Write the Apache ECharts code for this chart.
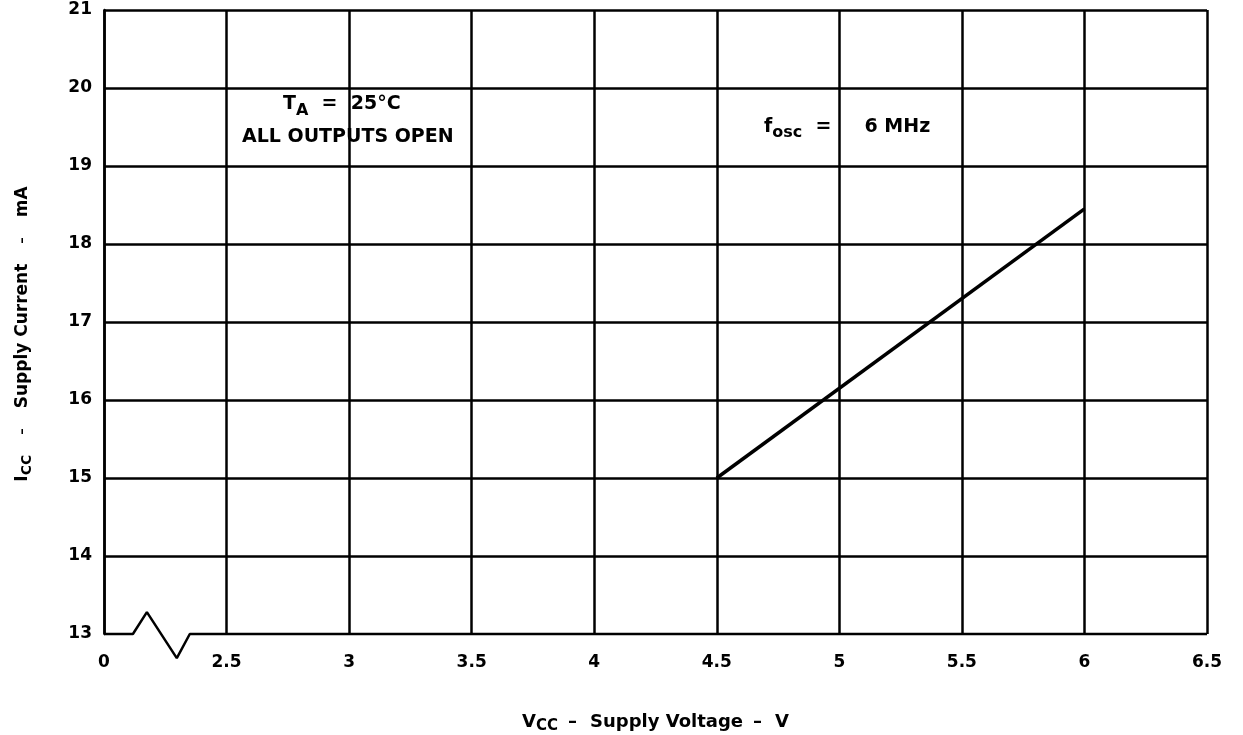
<!DOCTYPE html>
<html><head><meta charset="utf-8">
<script src="https://cdn.jsdelivr.net/npm/echarts@6/dist/echarts.min.js"></script>
<style>html,body{margin:0;padding:0;background:#fff}#c{width:1243px;height:735px}</style>
</head><body><div id="c"></div>
<script>
// Data
var vcc = [4.5, 6.0];
var icc = [15.0, 18.45];
// axis-break decoration along the bottom axis (x from "0"(=2.0 slot) to 2.5)
var breakX = [2.0, 2.118, 2.175, 2.297, 2.35, 2.5, 6.5];
var breakY = [13, 13, 13.28, 12.69, 13, 13, 13];
var xTickLabels = {2: '0'};

var F = '"DejaVu Sans", "Liberation Sans", Arial, sans-serif';
var chart = echarts.init(document.getElementById('c'));
chart.setOption({
  animation: false,
  grid: {left: 104, right: 36, top: 10, bottom: 101, outerBoundsMode: 'none', containLabel: false},
  xAxis: {
    type: 'value', min: 2.0, max: 6.5, interval: 0.5,
    axisLine: {show: false}, axisTick: {show: false},
    splitLine: {show: true, lineStyle: {color: '#000', width: 2.5}},
    axisLabel: {color: '#000', fontFamily: F, fontWeight: 'bold', fontSize: 17, margin: 20,
      formatter: function (v) { return xTickLabels[v] !== undefined ? xTickLabels[v] : String(v); }},
    name: '{m|V}{s|CC}{g|–}{m|Supply Voltage}{g|–}{m|V}', nameLocation: 'middle', nameGap: 76,
    nameTextStyle: {rich: {
      m: {fontFamily: F, fontWeight: 'bold', fontSize: 18, color: '#000'},
      s: {fontFamily: F, fontWeight: 'bold', fontSize: 15, color: '#000', padding: [9, 0, 0, 0]},
      g: {fontFamily: F, fontWeight: 'bold', fontSize: 18, color: '#000', padding: [0, 13, 0, 10]}
    }}
  },
  yAxis: {
    type: 'value', min: 13, max: 21, interval: 1,
    axisLine: {show: true, lineStyle: {color: '#000', width: 2.5}}, axisTick: {show: false},
    splitLine: {show: true, showMinLine: false, lineStyle: {color: '#000', width: 2.5}},
    axisLabel: {color: '#000', fontFamily: F, fontWeight: 'bold', fontSize: 17, margin: 12},
    name: '{m|I}{s|CC}{g|–}{m|Supply Current}{g|–}{e|mA}', nameLocation: 'middle', nameGap: 70,
    nameTextStyle: {rich: {
      m: {fontFamily: F, fontWeight: 'bold', fontSize: 17, color: '#000'},
      e: {fontFamily: F, fontWeight: 'bold', fontSize: 17, color: '#000', padding: [0, 24, 0, 0]},
      s: {fontFamily: F, fontWeight: 'bold', fontSize: 14, color: '#000', padding: [8, 0, 0, 0]},
      g: {fontFamily: F, fontWeight: 'bold', fontSize: 13, color: '#000', padding: [0, 20, 0, 20]}
    }}
  },
  graphic: [
    {type: 'text', left: 283, top: 95, style: {rich: {
      m: {fontFamily: F, fontWeight: 'bold', fontSize: 19, fill: '#000'},
      s: {fontFamily: F, fontWeight: 'bold', fontSize: 16, fill: '#000', padding: [12, 0, 0, 0]}
    }, text: '{m|T}{s|A}{m|  =  25°C}'}},
    {type: 'text', left: 242, top: 128, style: {fontFamily: F, fontWeight: 'bold', fontSize: 19, fill: '#000', text: 'ALL OUTPUTS OPEN'}},
    {type: 'text', left: 764, top: 118, style: {rich: {
      m: {fontFamily: F, fontWeight: 'bold', fontSize: 19, fill: '#000'},
      s: {fontFamily: F, fontWeight: 'bold', fontSize: 16, fill: '#000', padding: [10, 0, 0, 0]}
    }, text: '{m|f}{s|osc}{m|  =     6 MHz}'}}
  ],
  series: [
    {type: 'line', data: vcc.map(function (v, i) { return [v, icc[i]]; }),
      showSymbol: false, lineStyle: {color: '#000', width: 3.5}, silent: true},
    {type: 'line', data: breakX.map(function (v, i) { return [v, breakY[i]]; }),
      showSymbol: false, clip: false, lineStyle: {color: '#000', width: 2.5}, silent: true}
  ]
});
</script></body></html>
